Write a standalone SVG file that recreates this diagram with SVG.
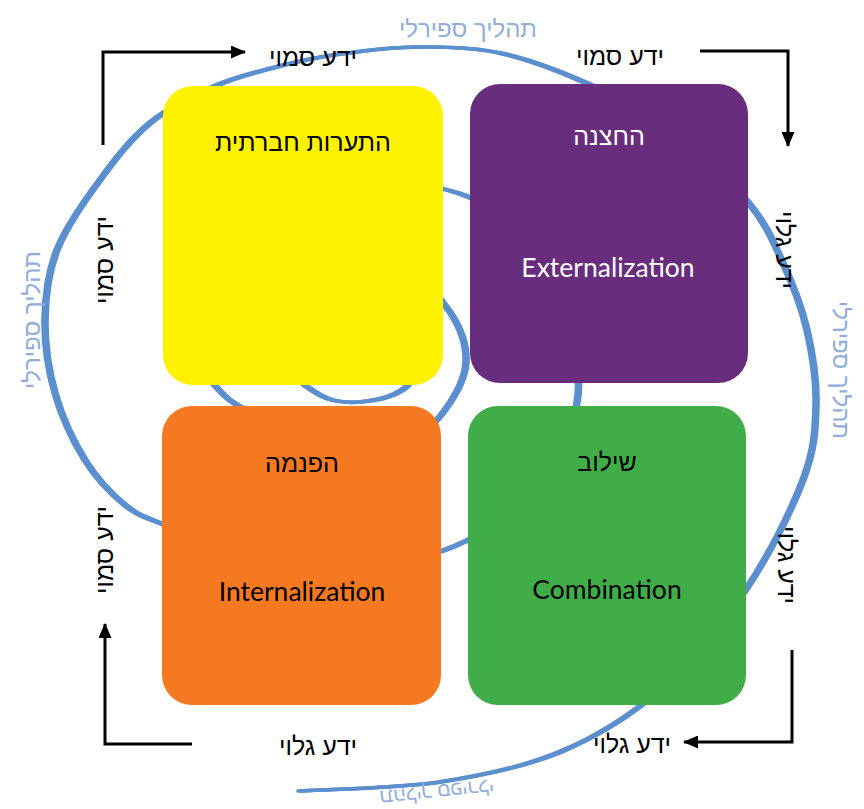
<svg xmlns="http://www.w3.org/2000/svg" xmlns:xlink="http://www.w3.org/1999/xlink" width="864" height="809" viewBox="0 0 864 809">
<style>
.sp{fill:none;stroke:#5B8FCE;stroke-width:3.6;stroke-linecap:round;stroke-linejoin:round}
.lbl{font-family:"Liberation Sans","DejaVu Sans",sans-serif;font-size:25px;fill:#000;text-anchor:middle}
.spl{font-family:"Liberation Sans","DejaVu Sans",sans-serif;font-size:24px;fill:#8FAEDC;text-anchor:middle}
.ttl{font-family:"Liberation Sans","DejaVu Sans",sans-serif;font-size:25px;text-anchor:middle}
.en{font-family:"Lato","Open Sans",sans-serif;font-size:26.5px;text-anchor:middle}
.arr{fill:none;stroke:#000;stroke-width:3;marker-end:url(#ah)}
</style>
<defs>
<marker id="ah" viewBox="0 0 15 13" markerWidth="15" markerHeight="13" refX="14" refY="6.5" orient="auto" markerUnits="userSpaceOnUse">
<path d="M0,0 L15,6.5 L0,13 Z" fill="#000"/>
</marker>
<path id="spiral" class="sp" d="M300,791 C323.3,789.5 396.7,788.5 440,782 C483.3,775.5 523.3,767.3 560,752 C596.7,736.7 629.2,716.8 660,690 C690.8,663.2 721.2,626 745,591 C768.8,556 791.2,511 803,480 C814.8,449 815.3,430 816,405 C816.7,380 812.5,353.7 807,330 C801.5,306.3 792.8,284.3 783,263 C773.2,241.7 766.8,224.5 748,202 C729.2,179.5 697.3,148 670,128 C642.7,108 612.3,94.5 584,82 C555.7,69.5 527.3,58.8 500,53 C472.7,47.2 446.7,46.8 420,47 C393.3,47.2 363.3,50.8 340,54 C316.7,57.2 300.8,60.7 280,66 C259.2,71.3 236.7,76.5 215,86 C193.3,95.5 169.2,107.3 150,123 C130.8,138.7 115.5,158.8 100,180 C84.5,201.2 66.2,226.7 57,250 C47.8,273.3 45.3,296.2 45,320 C44.7,343.8 48.3,369.7 55,393 C61.7,416.3 73.3,441.3 85,460 C96.7,478.7 111.7,494.2 125,505 C138.3,515.8 144.2,516.5 165,525 C185.8,533.5 219.2,549.2 250,556 C280.8,562.8 315.8,567.7 350,566 C384.2,564.3 423.3,559.5 455,546 C486.7,532.5 519.5,510.2 540,485 C560.5,459.8 574.7,427.5 578,395 C581.3,362.5 568,316.7 560,290 C552,263.3 547,251.2 530,235 C513,218.8 483,201.3 458,193 C433,184.7 408,182.2 380,185 C352,187.8 315.8,195.8 290,210 C264.2,224.2 240,246.7 225,270 C210,293.3 200,329 200,350 C200,371 212.5,384 225,396 C237.5,408 255.8,413 275,422 C294.2,431 317.5,447.3 340,450 C362.5,452.7 392.5,444.7 410,438 C427.5,431.3 435.7,422.7 445,410 C454.3,397.3 465.2,378.3 466,362 C466.8,345.7 460.2,327.3 450,312 C439.8,296.7 423.3,278.3 405,270 C386.7,261.7 359.2,257 340,262 C320.8,267 299.2,283.7 290,300 C280.8,316.3 280,344.2 285,360 C290,375.8 307.5,388 320,395 C332.5,402 345.8,403.2 360,402 C374.2,400.8 393.7,396.7 405,388 C416.3,379.3 424.2,356.3 428,350"/>
</defs>
<rect width="864" height="809" fill="#fff"/>

<g id="spiral-process">
<use xlink:href="#spiral" href="#spiral" transform="translate(-2,0)"/>
<use xlink:href="#spiral" href="#spiral"/>
<use xlink:href="#spiral" href="#spiral" transform="translate(2,0)"/>
<text class="spl" x="468" y="37">תהליך ספירלי</text>
<text class="spl" transform="translate(40,320) rotate(-90)">תהליך ספירלי</text>
<text class="spl" transform="translate(833,370) rotate(90)">תהליך ספירלי</text>
<text class="spl" transform="translate(436,785) rotate(174)" style="font-size:20px">תהליך ספירלי</text>
</g>

<g id="connectors">
<polyline class="arr" points="103,145 103,52 245,52"/>
<polyline class="arr" points="700,51 788,51 788,146"/>
<polyline class="arr" points="792,650 792,742 684,742"/>
<polyline class="arr" points="192,744 105,744 105,624"/>
<text class="lbl" x="313" y="66">ידע סמוי</text>
<text class="lbl" x="620" y="65">ידע סמוי</text>
<text class="lbl" x="318" y="755">ידע גלוי</text>
<text class="lbl" x="632" y="753">ידע גלוי</text>
<text class="lbl" transform="translate(113,260) rotate(-90)">ידע סמוי</text>
<text class="lbl" transform="translate(113,550) rotate(-90)">ידע סמוי</text>
<text class="lbl" transform="translate(776,250) rotate(90)">ידע גלוי</text>
<text class="lbl" transform="translate(778,565) rotate(90)">ידע גלוי</text>
</g>

<g id="socialization">
<rect x="163" y="86" width="280" height="299" rx="30" fill="#FFF200"/>
<text class="ttl" x="303" y="151" fill="#000">התערות חברתית</text>
</g>
<g id="externalization">
<rect x="470" y="84" width="278" height="299" rx="30" fill="#682D7C"/>
<text class="ttl" x="609" y="145" fill="#fff">החצנה</text>
<text class="en" x="608" y="277" fill="#fff">Externalization</text>
</g>
<g id="internalization">
<rect x="162" y="406" width="279" height="299" rx="30" fill="#F47920"/>
<text class="ttl" x="302" y="472" fill="#000">הפנמה</text>
<text class="en" x="302" y="601" fill="#000">Internalization</text>
</g>
<g id="combination">
<rect x="468" y="406" width="278" height="299" rx="30" fill="#41AD49"/>
<text class="ttl" x="607" y="471" fill="#000">שילוב</text>
<text class="en" x="607" y="599" fill="#000">Combination</text>
</g>
</svg>
